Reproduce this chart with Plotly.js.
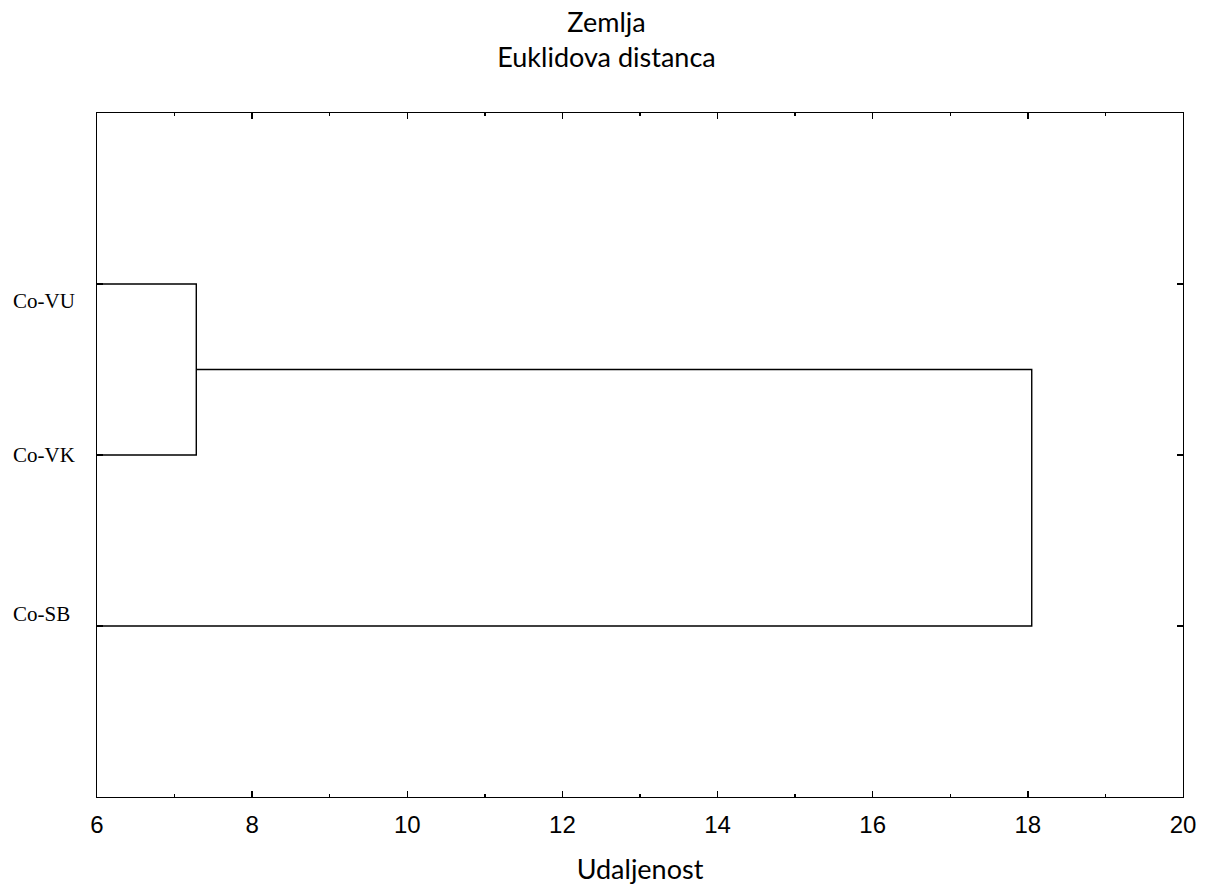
<!DOCTYPE html>
<html>
<head>
<meta charset="utf-8">
<script src="https://cdn.plot.ly/plotly-3.0.1.min.js"></script>
<style>html,body{margin:0;padding:0;background:#fff;}#chart{width:1213px;height:885px;}</style>
</head>
<body>
<div id="chart"></div>
<script>
// Leaves, top to bottom
const leafNames = ['Co-VU', 'Co-VK', 'Co-SB'];
const leafPos = [3, 2, 1];
// Linkage: [childA, childB]; indices >= 3 refer to earlier merges
const mergeChildren = [[0, 1], [3, 2]];
const mergeHeights = [7.28, 18.05];
const xTickVals = [6, 8, 10, 12, 14, 16, 18, 20];
const xRange = [6, 20];
const yRange = [0, 4];
const labelYShift = [-17, 0, 12];

// Build dendrogram path from the linkage
const nodeY = leafPos.slice();
const nodeX = leafPos.map(() => xRange[0]);
const xs = [], ys = [];
mergeChildren.forEach((pair, i) => {
  const h = mergeHeights[i];
  const [a, b] = pair;
  xs.push(nodeX[a], h, h, nodeX[b], null);
  ys.push(nodeY[a], nodeY[a], nodeY[b], nodeY[b], null);
  nodeY.push((nodeY[a] + nodeY[b]) / 2);
  nodeX.push(h);
});

const trace = {
  x: xs, y: ys, type: 'scatter', mode: 'lines',
  line: {color: '#000', width: 1.4},
  hoverinfo: 'skip', showlegend: false, cliponaxis: false
};

const annotations = leafNames.map((name, i) => ({
  text: name, xref: 'paper', yref: 'y', x: 0, y: leafPos[i],
  xanchor: 'left', yanchor: 'middle', xshift: -86, yshift: labelYShift[i],
  showarrow: false,
  font: {family: 'Liberation Serif, Times New Roman, serif', size: 21, color: '#000'}
}));

const layout = {
  width: 1213, height: 885,
  paper_bgcolor: '#fff', plot_bgcolor: '#fff',
  margin: {l: 97, r: 30, t: 113, b: 88},
  title: {
    text: 'Zemlja<br>Euklidova distanca',
    x: 0.5, xref: 'container', y: 0.964, yref: 'container', yanchor: 'top',
    font: {family: 'Lato, Open Sans, sans-serif', size: 27, color: '#000'}
  },
  xaxis: {
    range: xRange, tickvals: xTickVals, ticktext: xTickVals.map(String),
    ticks: 'inside', ticklen: 6, tickwidth: 1.3, tickcolor: '#000',
    minor: {dtick: 1, ticks: 'inside', ticklen: 3, tickwidth: 1.3, tickcolor: '#000', showgrid: false},
    showline: true, linecolor: '#000', linewidth: 1.4, mirror: 'ticks',
    showgrid: false, zeroline: false,
    ticklabelstandoff: 6,
    tickfont: {family: 'Liberation Sans, Arial, sans-serif', size: 24, color: '#000'},
    title: {text: 'Udaljenost', standoff: 28,
      font: {family: 'Lato, Open Sans, sans-serif', size: 27, color: '#000'}}
  },
  yaxis: {
    range: yRange, tickvals: leafPos, ticktext: leafPos.map(() => ''),
    ticks: 'inside', ticklen: 6, tickwidth: 1.3, tickcolor: '#000',
    showline: true, linecolor: '#000', linewidth: 1.4, mirror: 'ticks',
    showgrid: false, zeroline: false, showticklabels: false
  },
  annotations: annotations
};

Plotly.newPlot('chart', [trace], layout, {displayModeBar: false, staticPlot: true});
</script>
</body>
</html>
